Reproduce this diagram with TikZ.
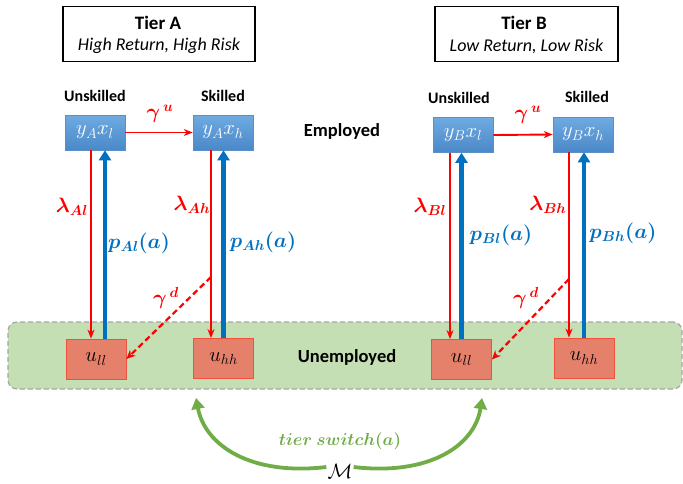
\documentclass[tikz,border=0pt]{standalone}
\usepackage{amsmath,bm}
\usepackage{fontspec}
\setmainfont{Carlito}
\usetikzlibrary{arrows.meta,calc}
\definecolor{boxblue}{HTML}{5B9BD5}
\definecolor{boxbluetop}{HTML}{6FAAE0}
\definecolor{boxbluebot}{HTML}{4A88C8}
\definecolor{boxblueline}{HTML}{5B8FC8}
\definecolor{arrblue}{HTML}{0070C0}
\definecolor{arrred}{HTML}{FF0000}
\definecolor{salmon}{HTML}{E5806A}
\definecolor{salmonline}{HTML}{F0503C}
\definecolor{regiongreen}{HTML}{C5DFB4}
\definecolor{regionline}{HTML}{A6A6A6}
\definecolor{arrgreen}{HTML}{70AD47}
\tikzset{
  x=1pt, y=-1pt,
  tierbox/.style={draw=black, line width=1.6pt, minimum width=#1, minimum height=55pt, inner sep=0pt, align=center},
  empbox/.style={draw=boxblueline, line width=0.6pt, top color=boxbluetop, bottom color=boxbluebot, minimum width=60pt, minimum height=35pt, inner sep=0pt, text=white, font=\fontsize{21}{23}\selectfont},
  unbox/.style={draw=salmonline, line width=0.8pt, fill=salmon, minimum width=60pt, minimum height=40pt, inner sep=0pt, text=black, font=\fontsize{21}{23}\selectfont},
  headlbl/.style={font=\bfseries\fontsize{16}{18}\selectfont, inner sep=0pt},
  statelbl/.style={font=\bfseries\fontsize{18.5}{20}\selectfont, inner sep=0pt},
  redlbl/.style={text=arrred, font=\fontsize{21}{23}\selectfont, inner sep=0pt},
  bluelbl/.style={text=arrblue, font=\fontsize{21}{23}\selectfont, inner sep=0pt},
  sepred/.style={draw=arrred, line width=1.8pt, -{Stealth[length=9pt,width=7pt]}},
  sepblue/.style={draw=arrblue, line width=4.5pt, -{Triangle[length=10pt,width=12pt]}},
  skillarr/.style={draw=arrred, line width=1.9pt, -{Stealth[length=9pt,width=7pt]}},
  droparr/.style={draw=arrred, line width=2.2pt, dashed, dash pattern=on 6pt off 3.5pt, -{Stealth[length=9pt,width=8pt]}},
  switcharr/.style={draw=arrgreen, line width=3.8pt, -{Triangle[length=11pt,width=13pt]}},
}
\begin{document}
\begin{tikzpicture}
\useasboundingbox (0,0) rectangle (683,483);
% green region
\node[draw=regionline, dashed, dash pattern=on 5pt off 3pt, line width=1.2pt, fill=regiongreen, rounded corners=9pt, minimum width=674pt, minimum height=67pt, inner sep=0pt] (region) at (345,355.5) {};
% tier boxes
\node[tierbox=192pt] (tierA) at (159,34) {};
\node[font=\bfseries\fontsize{19}{21}\selectfont, inner sep=0pt] (tierAt) at (158,23) {Tier A};
\node[font=\itshape\fontsize{18}{20}\selectfont, inner sep=0pt] (tierAs) at (159,46) {High Return, High Risk};
\node[tierbox=183pt] (tierB) at (526.5,34) {};
\node[font=\bfseries\fontsize{19}{21}\selectfont, inner sep=0pt] (tierBt) at (524,23) {Tier B};
\node[font=\itshape\fontsize{18}{20}\selectfont, inner sep=0pt] (tierBs) at (526.5,46) {Low Return, Low Risk};
% headers
\node[headlbl] (unskA) at (95,96) {Unskilled};
\node[headlbl] (skA) at (223,96) {Skilled};
\node[headlbl] (unskB) at (459,98) {Unskilled};
\node[headlbl] (skB) at (587,97) {Skilled};
% employed boxes
\node[empbox] (yAl) at (95,132.5) {$y_Ax_l$};
\node[empbox] (yAh) at (223,132.5) {$y_Ax_h$};
\node[empbox] (yBl) at (463,135) {$y_Bx_l$};
\node[empbox] (yBh) at (583,134.5) {$y_Bx_h$};
\node[statelbl] (employed) at (342,131) {Employed};
% unemployed boxes
\node[unbox] (uAl) at (96,359) {$u_{ll}$};
\node[unbox] (uAh) at (223.5,358.5) {$u_{hh}$};
\node[unbox] (uBl) at (461.5,359.5) {$u_{ll}$};
\node[unbox] (uBh) at (584,358) {$u_{hh}$};
\node[statelbl] (unemployed) at (347,357) {Unemployed};
% skill upgrade arrows
\draw[skillarr] (yAl.east) -- (yAh.west);
\node[redlbl] (guA) at (160,114) {$\bm{\gamma^{\,u}}$};
\draw[skillarr] (yBl.east) -- (yBh.west);
\node[redlbl] (guB) at (528,115) {$\bm{\gamma^{\,u}}$};
% separation and job-finding arrows, tier A
\draw[sepred] ([xshift=-4pt]yAl.south) -- ([xshift=-4pt]yAl.south |- uAl.north);
\draw[sepblue] ([xshift=9pt]uAl.north) -- ([xshift=9pt]uAl.north |- yAl.south);
\draw[sepred] ([xshift=-12pt]yAh.south) -- ([xshift=-12pt]yAh.south |- uAh.north);
\draw[sepblue] (uAh.north) -- (uAh.north |- yAh.south);
\node[redlbl] (lAl) at (72,207) {$\bm{\lambda_{Al}}$};
\node[bluelbl] (pAl) at (139,243) {$\bm{p_{Al}(a)}$};
\node[redlbl] (lAh) at (192,205) {$\bm{\lambda_{Ah}}$};
\node[bluelbl] (pAh) at (263,242) {$\bm{p_{Ah}(a)}$};
% tier B
\draw[sepred] ([xshift=-13pt]yBl.south) -- ([xshift=-13pt]yBl.south |- uBl.north);
\draw[sepblue] (uBl.north) -- (uBl.north |- yBl.south);
\draw[sepred] ([xshift=-14pt]yBh.south) -- ([xshift=-14pt]yBh.south |- uBh.north);
\draw[sepblue] (uBh.north) -- (uBh.north |- yBh.south);
\node[redlbl] (lBl) at (430,207) {$\bm{\lambda_{Bl}}$};
\node[bluelbl] (pBl) at (501,235) {$\bm{p_{Bl}(a)}$};
\node[redlbl] (lBh) at (548,205) {$\bm{\lambda_{Bh}}$};
\node[bluelbl] (pBh) at (623,233) {$\bm{p_{Bh}(a)}$};
% skill loss dashed arrows
\coordinate (gdA) at (211,277);
\coordinate (gdB) at (569,279);
\draw[droparr] (gdA) -- (uAl.east);
\draw[droparr] (gdB) -- (uBl.east);
\node[redlbl] (gdAl) at (166,298) {$\bm{\gamma^{\,d}}$};
\node[redlbl] (gdBl) at (526,298) {$\bm{\gamma^{\,d}}$};
% tier switch
\node[font=\fontsize{20}{22}\selectfont, inner sep=1pt] (M) at (340,471) {$\mathcal{M}$};
\coordinate (swL) at (196,398);
\coordinate (swR) at (482,398);
\draw[switcharr] ([yshift=4pt]M.west) .. controls (250,476) and (205,445) .. (swL);
\draw[switcharr] ([yshift=4pt]M.east) .. controls (430,476) and (475,445) .. (swR);
\node[text=arrgreen, font=\fontsize{19}{21}\selectfont, inner sep=0pt] (sw) at (340,441) {$\bm{tier\ switch(a)}$};
\end{tikzpicture}
\end{document}
